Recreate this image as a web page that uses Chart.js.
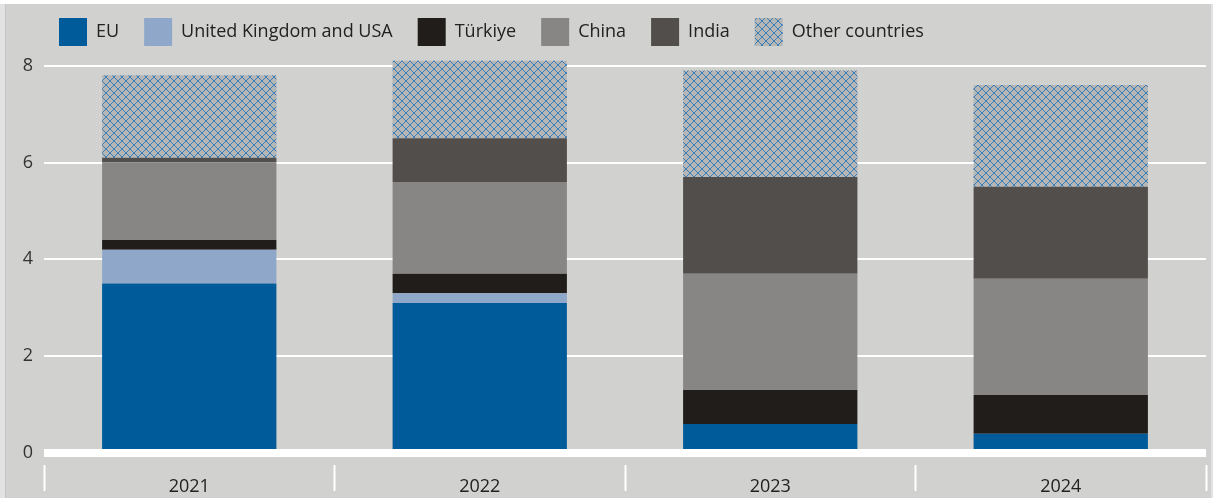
<!DOCTYPE html>
<html>
<head>
<meta charset="utf-8">
<script src="https://cdn.jsdelivr.net/npm/chart.js@4"></script>
<style>
  body { margin: 0; background: #e2e2e2; }
  #topline { position: absolute; left: 0; top: 0; width: 1213px; height: 4px; background: #fff; z-index: 2; }
  #frame { position: absolute; left: 5px; top: 4px; width: 1205px; height: 494px; overflow: hidden; background: #d1d1cf; border-left: 1px solid #c4c4c4; }
  #box { position: absolute; left: 0; top: -11px; width: 1205px; height: 505px; }
</style>
</head>
<body>
<div id="topline"></div>
<div id="frame"><div id="box"><canvas id="chart"></canvas></div></div>
<script>
const years = ['2021', '2022', '2023', '2024'];
const eu = [3.5, 3.1, 0.6, 0.4];
const ukUsa = [0.7, 0.2, 0, 0];
const turkiye = [0.2, 0.4, 0.7, 0.8];
const china = [1.6, 1.9, 2.4, 2.4];
const india = [0.1, 0.9, 2.0, 1.9];
const others = [1.7, 1.6, 2.2, 2.1];
const yTicks = [0, 2, 4, 6, 8];

// crosshatch fill for "Other countries"
function hatch() {
  const c = document.createElement('canvas');
  c.width = 8; c.height = 8;
  const g = c.getContext('2d');
  g.fillStyle = '#b5b6b6';
  g.fillRect(0, 0, 8, 8);
  g.strokeStyle = '#3b7db8';
  g.lineWidth = 1;
  g.beginPath();
  g.moveTo(-1, -1); g.lineTo(9, 9);
  g.moveTo(9, -1); g.lineTo(-1, 9);
  g.stroke();
  return g.createPattern(c, 'repeat');
}

// nudge the legend to the right, as the y axis takes its own room
const legendShift = {
  id: 'legendShift',
  afterLayout(chart) {
    chart.legend.left = 28;
  }
};

const font = { family: '"Open Sans", sans-serif', size: 18 };

new Chart(document.getElementById('chart'), {
  type: 'bar',
  data: {
    labels: years,
    datasets: [
      { label: 'EU', data: eu, backgroundColor: '#005b9a' },
      { label: 'United Kingdom and USA', data: ukUsa, backgroundColor: '#8fa8c9' },
      { label: 'Türkiye', data: turkiye, backgroundColor: '#201d1b' },
      { label: 'China', data: china, backgroundColor: '#878684' },
      { label: 'India', data: india, backgroundColor: '#524e4b' },
      { label: 'Other countries', data: others, backgroundColor: hatch() }
    ]
  },
  options: {
    responsive: true,
    maintainAspectRatio: false,
    animation: false,
    layout: { padding: { right: 5 } },
    datasets: {
      bar: { barPercentage: 0.6, categoryPercentage: 1, borderWidth: 0, clip: false }
    },
    plugins: {
      legend: {
        position: 'top',
        align: 'start',
        labels: { boxWidth: 28, boxHeight: 28, padding: 25, color: '#222', font: font }
      },
      tooltip: { enabled: false }
    },
    scales: {
      x: {
        stacked: true,
        border: { display: false },
        grid: {
          drawOnChartArea: false,
          drawTicks: true,
          tickLength: 38,
          tickColor: '#ffffff',
          tickWidth: 2,
          tickBorderDash: [0, 12, 26, 12]
        },
        ticks: { color: '#222', font: font, padding: -15 },
        afterFit(scale) { scale.height = 45; }
      },
      y: {
        stacked: true,
        min: 0,
        max: 8.2,
        border: { display: false },
        grid: {
          color: '#ffffff',
          lineWidth: (c) => (c.tick && c.tick.value === 0 ? 8 : 2),
          drawTicks: false
        },
        afterBuildTicks(scale) {
          scale.ticks = yTicks.map((v) => ({ value: v }));
        },
        ticks: { color: '#333', font: font, padding: 11 },
        afterFit(scale) { scale.width = 38; }
      }
    }
  },
  plugins: [legendShift]
});
</script>
</body>
</html>
